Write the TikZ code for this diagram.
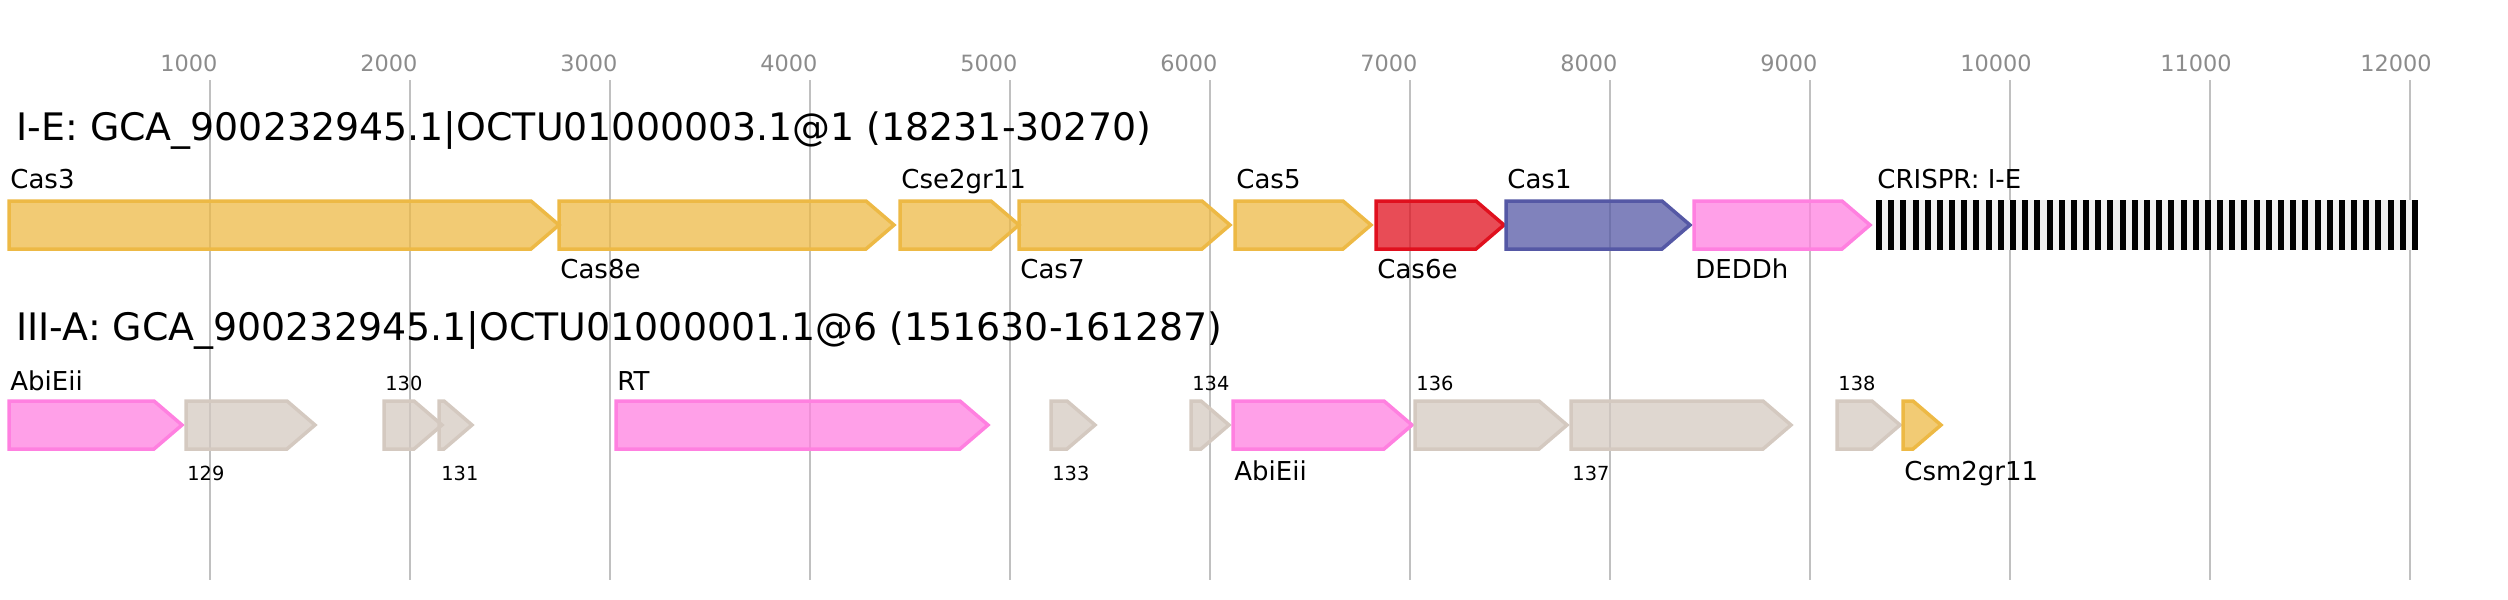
\documentclass[tikz,border=0pt]{standalone}
\usepackage{fontspec}
\setmainfont{DejaVu Sans}
\usepackage{tikz}
\usetikzlibrary{calc}

\definecolor{jaune}{HTML}{EDB945}
\definecolor{rouge}{HTML}{E0101E}
\definecolor{bleu}{HTML}{5558A5}
\definecolor{rose}{HTML}{FF80E0}
\definecolor{beige}{HTML}{D4C9C0}
\definecolor{grille}{HTML}{C0C0C0}
\definecolor{fondcrispr}{HTML}{F0F0F0}

\tikzstyle{gene}            =[line width=1.75pt, line join=miter, fill opacity=0.75]
\tikzstyle{cas}             =[gene, draw=jaune, fill=jaune]
\tikzstyle{casrouge}        =[gene, draw=rouge, fill=rouge]
\tikzstyle{casbleu}         =[gene, draw=bleu, fill=bleu]
\tikzstyle{autre}           =[gene, draw=rose, fill=rose]
\tikzstyle{inconnu}         =[gene, draw=beige, fill=beige]
\tikzstyle{titre}           =[anchor=base west, inner sep=0pt, font=\fontsize{18.95}{22}\selectfont]
\tikzstyle{nom}             =[anchor=base west, inner sep=0pt, font=\fontsize{13}{15}\selectfont]
\tikzstyle{numero}          =[anchor=base west, inner sep=0pt, font=\fontsize{9.7}{11}\selectfont]
\tikzstyle{graduation}      =[anchor=base west, inner sep=0pt, text=black!45, font=\fontsize{11.2}{13}\selectfont]

%flèche d'un gène : style, début, fin, ordonnée du centre
\newcommand{\gene}[4]{%
  \pgfmathsetmacro{\pointe}{min(28,#3-#2)}%
  \draw[#1] (#2,#4-24) -- ({#3-\pointe},#4-24) -- (#3,#4) -- ({#3-\pointe},#4+24) -- (#2,#4+24) -- cycle;%
}

\begin{document}
\begin{tikzpicture}[x=0.5pt,y=-0.5pt]

\useasboundingbox (0,0) rectangle (2508,600);

%%%%%%%%%%%%%%%%%%%%%%%%
%paramètres des deux lignes
%%%%%%%%%%%%%%%%%%%%%%%%
\def \ligneA {225}; %ordonnée du centre de la ligne I-E
\def \ligneB {425}; %ordonnée du centre de la ligne III-A

%%%%%%%%%%%%%%%%%%%%%%%%
%graduations (200 px pour 1000 pb)
%%%%%%%%%%%%%%%%%%%%%%%%
\foreach \k in {1,...,12}{
  \draw[grille, line width=1pt] ({10+200*\k},80) -- ({10+200*\k},580);
  \node[graduation] (grad\k) at ({10+200*\k-50},71) {\k000};
}

%%%%%%%%%%%%%%%%%%%%%%%%
%ligne I-E
%%%%%%%%%%%%%%%%%%%%%%%%
\node[titre] (titreA) at (16,140) {I-E: GCA\_900232945.1|OCTU01000003.1@1 (18231-30270)};

\gene{cas}{9}{559}{\ligneA}
\gene{cas}{559}{894}{\ligneA}
\gene{cas}{900}{1019}{\ligneA}
\gene{cas}{1019}{1230}{\ligneA}
\gene{cas}{1235}{1371}{\ligneA}
\gene{casrouge}{1376}{1504}{\ligneA}
\gene{casbleu}{1506}{1690}{\ligneA}
\gene{autre}{1694}{1870}{\ligneA}

%le CRISPR
\fill[fondcrispr] (1876,200) rectangle (2418,250);
\foreach \i in {0,...,44}
  \fill[black] ({1876+12.18*\i},200) rectangle ++(6,50);

\node[nom] (cas3) at (10,188) {Cas3};
\node[nom] (cas8e) at (560,278) {Cas8e};
\node[nom] (cse2) at (901,188) {Cse2gr11};
\node[nom] (cas7) at (1020,278) {Cas7};
\node[nom] (cas5) at (1236,188) {Cas5};
\node[nom] (cas6e) at (1377,278) {Cas6e};
\node[nom] (cas1) at (1507,188) {Cas1};
\node[nom] (deddh) at (1695,278) {DEDDh};
\node[nom] (crispr) at (1877,188) {CRISPR: I-E};

%%%%%%%%%%%%%%%%%%%%%%%%
%ligne III-A
%%%%%%%%%%%%%%%%%%%%%%%%
\node[titre] (titreB) at (16,340) {III-A: GCA\_900232945.1|OCTU01000001.1@6 (151630-161287)};

\gene{autre}{9}{182}{\ligneB}
\gene{inconnu}{186}{315}{\ligneB}
\gene{inconnu}{384}{442}{\ligneB}
\gene{inconnu}{439}{472}{\ligneB}
\gene{autre}{616}{988}{\ligneB}
\gene{inconnu}{1051}{1095}{\ligneB}
\gene{inconnu}{1191}{1229}{\ligneB}
\gene{autre}{1233}{1412}{\ligneB}
\gene{inconnu}{1415}{1567}{\ligneB}
\gene{inconnu}{1571}{1791}{\ligneB}
\gene{inconnu}{1837}{1900}{\ligneB}
\gene{cas}{1903}{1941}{\ligneB}

\node[nom] (abieiiA) at (10,390) {AbiEii};
\node[numero] (n129) at (187,480) {129};
\node[numero] (n130) at (385,390) {130};
\node[numero] (n131) at (441,480) {131};
\node[nom] (rt) at (617,390) {RT};
\node[numero] (n133) at (1052,480) {133};
\node[numero] (n134) at (1192,390) {134};
\node[nom] (abieiiB) at (1234,480) {AbiEii};
\node[numero] (n136) at (1416,390) {136};
\node[numero] (n137) at (1572,480) {137};
\node[numero] (n138) at (1838,390) {138};
\node[nom] (csm2) at (1904,480) {Csm2gr11};

\end{tikzpicture}
\end{document}
